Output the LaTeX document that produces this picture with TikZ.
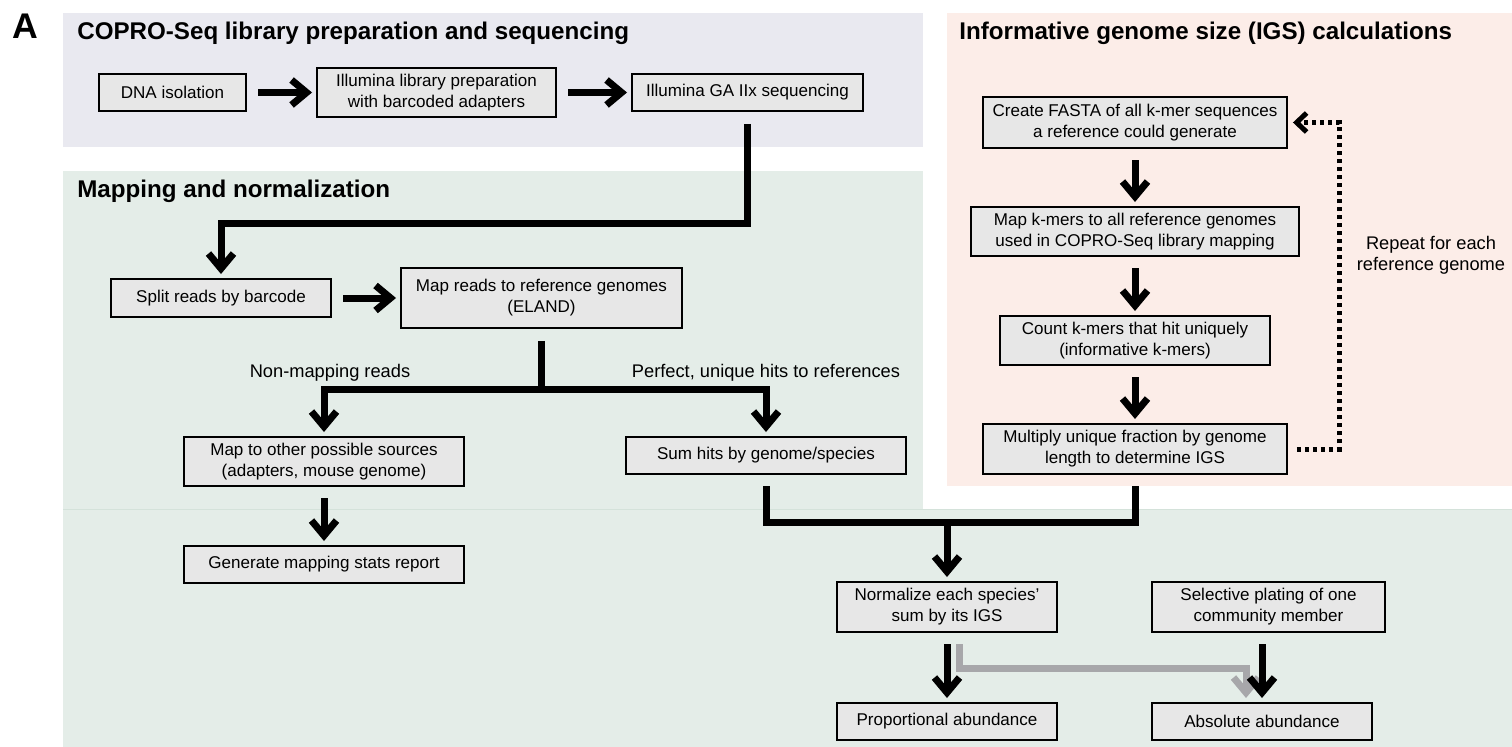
\documentclass[tikz,border=0pt]{standalone}
\usepackage{fontspec}
\setmainfont{Liberation Sans}
\usetikzlibrary{arrows.meta}
\definecolor{panelblue}{RGB}{233,233,240}
\definecolor{panelpink}{RGB}{252,237,232}
\definecolor{panelgreen}{RGB}{228,237,232}
\definecolor{seamgreen}{RGB}{212,226,218}
\definecolor{boxgray}{RGB}{231,231,231}
\definecolor{flowgray}{RGB}{167,167,170}

\begin{document}
\begin{tikzpicture}[x=0.02cm,y=-0.02cm,
	box/.style={draw=black,line width=0.04cm,fill=boxgray,align=center,inner sep=0pt,font=\fontsize{9.7}{11.95}\selectfont},
	paneltitle/.style={anchor=base west,inner sep=0pt,font=\bfseries\fontsize{13.75}{16}\selectfont},
	note/.style={inner sep=0pt,align=center,font=\fontsize{10.4}{11.95}\selectfont},
	flow/.style={line width=0.14cm,line join=miter,-{Straight Barb[sharp,length=0.3cm,width=0.5cm]},shorten <=0.23cm,shorten >=0.08cm},
	grayflow/.style={flow,draw=flowgray},
	link/.style={line width=0.14cm,line join=miter,shorten <=0.23cm,shorten >=0.23cm},
	loopflow/.style={line width=0.1cm,dash pattern=on 0.08cm off 0.08cm,-{Straight Barb[sharp,length=0.2cm,width=0.38cm]},shorten <=0.18cm,shorten >=0.1cm}]
	\useasboundingbox (0,0) rectangle (1512,747);

	\fill[panelblue] (63,13) rectangle (923,147);
	\fill[panelpink] (947,13) rectangle (1512,486);
	\fill[panelgreen] (63,171) rectangle (923,509);
	\fill[panelgreen] (63,509) rectangle (1512,747);
	\draw[seamgreen,line width=0.02cm] (63,509) -- (1512,509);

	\node[paneltitle,font=\bfseries\fontsize{20.3}{24}\selectfont] (letter) at (12,38) {A};
	\node[paneltitle] (titlecopro) at (77,39) {COPRO-Seq library preparation and sequencing};
	\node[paneltitle] (titlemap) at (77,197) {Mapping and normalization};
	\node[paneltitle] (titleigs) at (959,39) {Informative genome size (IGS) calculations};

	\node[box,minimum width=2.94cm,minimum height=0.74cm] (dna) at (172.5,92.5) {DNA isolation};
	\node[box,minimum width=4.78cm,minimum height=0.98cm] (libprep) at (436.5,92.5) {Illumina library preparation\\with barcoded adapters};
	\node[box,minimum width=4.62cm,minimum height=0.76cm] (ga) at (747.5,92.5) {Illumina GA IIx sequencing};
	\node[box,minimum width=4.40cm,minimum height=0.76cm] (split) at (221,298) {Split reads by barcode};
	\node[box,minimum width=5.62cm,minimum height=1.22cm] (eland) at (541.5,298) {Map reads to reference genomes\\(ELAND)};
	\node[box,minimum width=5.60cm,minimum height=0.98cm] (mapother) at (324,461.5) {Map to other possible sources\\(adapters, mouse genome)};
	\node[box,minimum width=5.60cm,minimum height=0.74cm] (genstats) at (324,564.5) {Generate mapping stats report};
	\node[box,minimum width=5.60cm,minimum height=0.74cm] (sumhits) at (766,455.5) {Sum hits by genome/species};
	\node[box,minimum width=6.08cm,minimum height=1.02cm] (fasta) at (1135,122.5) {Create FASTA of all k-mer sequences\\a reference could generate};
	\node[box,minimum width=6.56cm,minimum height=0.98cm] (kmers) at (1135,231.5) {Map k-mers to all reference genomes\\used in COPRO-Seq library mapping};
	\node[box,minimum width=5.40cm,minimum height=0.98cm] (count) at (1135,340.5) {Count k-mers that hit uniquely\\(informative k-mers)};
	\node[box,minimum width=6.08cm,minimum height=1.00cm] (multiply) at (1135,449) {Multiply unique fraction by genome\\length to determine IGS};
	\node[box,minimum width=4.40cm,minimum height=1.00cm] (normalize) at (947,607) {Normalize each species’\\sum by its IGS};
	\node[box,minimum width=4.66cm,minimum height=1.00cm] (selective) at (1268.5,607) {Selective plating of one\\community member};
	\node[box,minimum width=4.40cm,minimum height=0.74cm] (proportional) at (947,721.5) {Proportional abundance};
	\node[box,minimum width=4.40cm,minimum height=0.74cm] (absolute) at (1262,721.5) {Absolute abundance};

	\node[note,anchor=base] (nonmap) at (330,377) {Non-mapping reads};
	\node[note,anchor=base] (perfect) at (766,377) {Perfect, unique hits to references};
	\node[note] (repeat) at (1431,255) {Repeat for each\\reference genome};

	\coordinate (bar1) at (0,223);
	\coordinate (bar2) at (0,389);
	\coordinate (bar3) at (0,522);
	\coordinate (loopx) at (1339,0);

	\draw[flow] (dna) -- (libprep);
	\draw[flow] (libprep) -- (ga);
	\draw[flow] (ga) -- (ga |- bar1) -| (split);
	\draw[flow] (split) -- (eland);
	\draw[flow] (eland) -- (eland |- bar2) -| (mapother);
	\draw[flow,shorten <=0pt] (eland |- bar2) -| (sumhits);
	\draw[flow] (mapother) -- (genstats);
	\draw[flow] (fasta) -- (kmers);
	\draw[flow] (kmers) -- (count);
	\draw[flow] (count) -- (multiply);
	\draw[loopflow] (multiply) -- (multiply -| loopx) |- (fasta);
	\draw[link] (sumhits) -- (sumhits |- bar3) -| (multiply);
	\draw[flow,shorten <=0pt] (normalize |- bar3) -- (normalize);
	\draw[flow] (normalize) -- (proportional);
	\draw[grayflow] ([xshift=0.24cm]normalize.south) -- ++(0,35) -| ([xshift=-0.32cm]absolute.north);
	\draw[flow] (absolute |- selective.south) -- (absolute);

\end{tikzpicture}
\end{document}
